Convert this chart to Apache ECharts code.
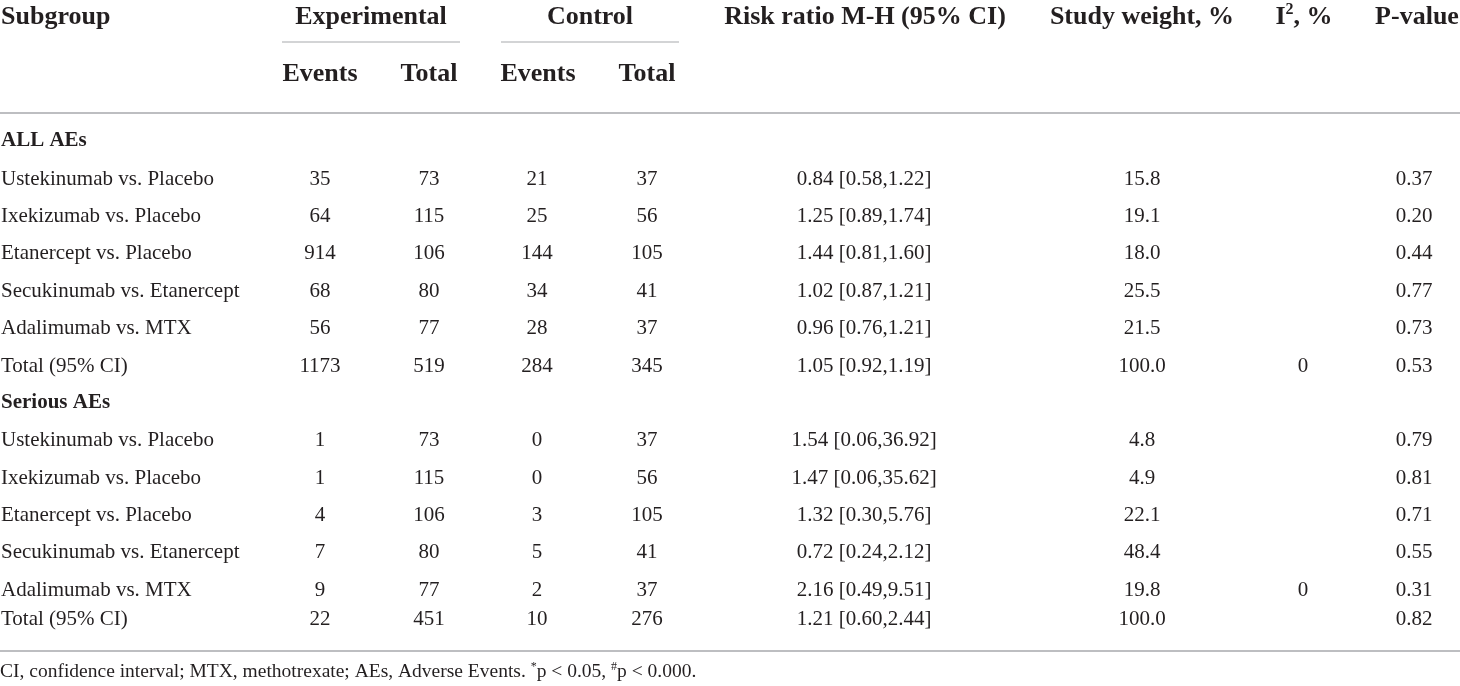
<!DOCTYPE html>
<html>
<head>
<meta charset="utf-8">
<title>Adverse events subgroup table</title>
<script src="https://cdn.jsdelivr.net/npm/echarts@6/dist/echarts.min.js"></script>
<style>
  html, body { margin: 0; padding: 0; background: #fff; }
  #main { width: 1460px; height: 686px; }
</style>
</head>
<body>
<div id="main"></div>
<script>
// ---- table data ----
var sections = ['ALL AEs', 'Serious AEs'];
var subgroups = ['Ustekinumab vs. Placebo', 'Ixekizumab vs. Placebo', 'Etanercept vs. Placebo',
                 'Secukinumab vs. Etanercept', 'Adalimumab vs. MTX', 'Total (95% CI)'];

var expEvents  = [[35, 64, 914, 68, 56, 1173], [1, 1, 4, 7, 9, 22]];
var expTotal   = [[73, 115, 106, 80, 77, 519], [73, 115, 106, 80, 77, 451]];
var ctrlEvents = [[21, 25, 144, 34, 28, 284], [0, 0, 3, 5, 2, 10]];
var ctrlTotal  = [[37, 56, 105, 41, 37, 345], [37, 56, 105, 41, 37, 276]];
var riskRatio  = [['0.84 [0.58,1.22]', '1.25 [0.89,1.74]', '1.44 [0.81,1.60]', '1.02 [0.87,1.21]', '0.96 [0.76,1.21]', '1.05 [0.92,1.19]'],
                  ['1.54 [0.06,36.92]', '1.47 [0.06,35.62]', '1.32 [0.30,5.76]', '0.72 [0.24,2.12]', '2.16 [0.49,9.51]', '1.21 [0.60,2.44]']];
var weights    = [['15.8', '19.1', '18.0', '25.5', '21.5', '100.0'], ['4.8', '4.9', '22.1', '48.4', '19.8', '100.0']];
// I2 is only printed on one row per section
var i2Values   = [[null, null, null, null, null, '0'], [null, null, null, null, '0', null]];
var pValues    = [['0.37', '0.20', '0.44', '0.77', '0.73', '0.53'], ['0.79', '0.81', '0.71', '0.55', '0.31', '0.82']];

var header1 = ['Subgroup', 'Experimental', 'Control', 'Risk ratio M-H (95% CI)', 'Study weight, %', 'I{sup|2}, %', 'P-value'];
var header2 = ['Events', 'Total', 'Events', 'Total'];
var footnote = 'CI, confidence interval; MTX, methotrexate; AEs, Adverse Events. {sup|*}p < 0.05, {sup|#}p < 0.000.';

// ---- layout (pixels) ----
var colX = { sub: 1, ee: 320, et: 429, ce: 537, ct: 647, rr: 864, w: 1142, i2: 1303, p: 1414 };
var head1X = [1, 371, 590, 865, 1142, 1304, 1417];
var head2X = [320, 429, 538, 647];
var head1Y = 17, head2Y = 74;
var rowY = [141, 179, 216, 253, 291, 328, 366, 403, 440, 478, 515, 552, 590, 619];
var footY = 672;

var FONT = '"Liberation Serif", "DejaVu Serif", serif';
var INK = '#231f20';
var RULE = '#a7a9ac';

var cells = [];
function cell(x, y, text, opt) {
  opt = opt || {};
  cells.push({ x: x, y: y, text: String(text), bold: !!opt.bold, size: opt.size || 21,
               align: opt.align || 'center' });
}

header1.forEach(function (t, i) {
  cell(head1X[i], head1Y, t, { bold: true, size: 26, align: i === 0 ? 'left' : 'center' });
});
header2.forEach(function (t, i) {
  cell(head2X[i], head2Y, t, { bold: true, size: 26 });
});

var r = 0;
sections.forEach(function (sec, s) {
  cell(colX.sub, rowY[r++], sec, { bold: true, align: 'left' });
  subgroups.forEach(function (name, k) {
    var y = rowY[r++];
    cell(colX.sub, y, name, { align: 'left' });
    cell(colX.ee, y, expEvents[s][k]);
    cell(colX.et, y, expTotal[s][k]);
    cell(colX.ce, y, ctrlEvents[s][k]);
    cell(colX.ct, y, ctrlTotal[s][k]);
    cell(colX.rr, y, riskRatio[s][k]);
    cell(colX.w, y, weights[s][k]);
    if (i2Values[s][k] !== null) cell(colX.i2, y, i2Values[s][k]);
    cell(colX.p, y, pValues[s][k]);
  });
});
cell(0, footY, footnote, { align: 'left', size: 19.5 });

// horizontal rules: [x1, x2, y, width]
var rules = [[282, 460, 42, 1], [501, 679, 42, 1], [0, 1460, 113, 1.5], [0, 1460, 651, 1.5]];

var chart = echarts.init(document.getElementById('main'));
chart.setOption({
  backgroundColor: '#fff',
  animation: false,
  grid: { left: 0, right: 0, top: 0, bottom: 0 },
  xAxis: { type: 'value', min: 0, max: 1460, show: false },
  yAxis: { type: 'value', min: 0, max: 686, inverse: true, show: false },
  series: [
    {
      type: 'custom',
      silent: true,
      clip: false,
      data: rules,
      renderItem: function (params, api) {
        var a = api.coord([api.value(0), api.value(2)]);
        var b = api.coord([api.value(1), api.value(2)]);
        return {
          type: 'line',
          shape: { x1: a[0], y1: a[1], x2: b[0], y2: b[1] },
          style: { stroke: RULE, lineWidth: api.value(3) }
        };
      }
    },
    {
      type: 'custom',
      silent: true,
      clip: false,
      data: cells.map(function (c) { return [c.x, c.y]; }),
      renderItem: function (params, api) {
        var c = cells[params.dataIndex];
        var p = api.coord([api.value(0), api.value(1)]);
        var supSize = Math.round(c.size * 0.62);
        return {
          type: 'text',
          x: p[0],
          y: p[1],
          style: {
            text: c.text,
            fill: INK,
            fontFamily: FONT,
            fontSize: c.size,
            fontWeight: c.bold ? 'bold' : 'normal',
            align: c.align,
            verticalAlign: 'middle',
            lineHeight: c.size * 1.3,
            rich: {
              sup: { fontSize: supSize, lineHeight: supSize, verticalAlign: 'bottom', fontFamily: FONT,
                     fontWeight: c.bold ? 'bold' : 'normal', fill: INK,
                     padding: [0, 0, Math.round(c.size * 0.62), 0] }
            }
          }
        };
      }
    }
  ]
});
</script>
</body>
</html>
